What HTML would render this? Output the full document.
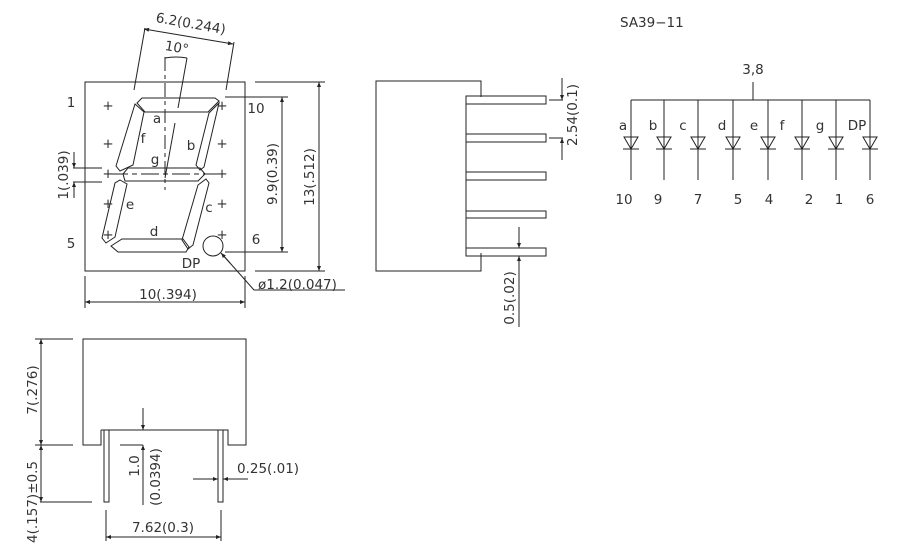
<!DOCTYPE html>
<html><head><meta charset="utf-8"><style>
html,body{margin:0;padding:0;background:#fff;}
svg{display:block;}
text{font-family:"DejaVu Sans","Liberation Sans",sans-serif;font-size:13.5px;fill:#333;}
</style></head><body>
<svg width="900" height="558" viewBox="0 0 900 558" xmlns="http://www.w3.org/2000/svg">
<defs>
<marker id="ar" viewBox="0 0 10 10" refX="10" refY="5" markerWidth="8" markerHeight="5" orient="auto-start-reverse" markerUnits="userSpaceOnUse"><path d="M0,1 L10,5 L0,9 z" fill="#222"/></marker>
</defs>
<g stroke="#222" stroke-width="1" fill="none">
<rect x="85" y="82" width="160" height="189"/>
<polygon points="142,98 215,98 219,101 208,112 145,112 137,103"/>
<polygon points="135,104 144,112 133,165 120,171 116,166"/>
<polygon points="219,103 204,167 200,170 196,165 209,113"/>
<polygon points="123,174 128,168 200,168 205,174 198,181 125,181"/>
<polygon points="120,180 127,184 115,237 106,243 102,238 115,183"/>
<polygon points="206,179 209,183 193,245 188,249 182,240 198,185"/>
<polygon points="122,239 183,239 189,247 186,252 118,252 111,246"/>
<circle cx="213" cy="246" r="10"/>
<line x1="165" y1="57" x2="165" y2="190" stroke-dasharray="14,4,4,4"/>
<line x1="187" y1="58" x2="178" y2="108"/>
<line x1="175" y1="123" x2="165" y2="178"/>
<line x1="110" y1="174" x2="225" y2="174" stroke-dasharray="18,4,5,4"/>
<path d="M165,58 Q176,56 187,58"/>
<line x1="134" y1="90" x2="145" y2="28"/>
<line x1="226" y1="90" x2="234" y2="42"/>
<line x1="144" y1="29" x2="233" y2="44" marker-start="url(#ar)" marker-end="url(#ar)"/>
<line x1="225" y1="97" x2="288" y2="97"/>
<line x1="225" y1="252" x2="288" y2="252"/>
<line x1="282" y1="97" x2="282" y2="252" marker-start="url(#ar)" marker-end="url(#ar)"/>
<line x1="255" y1="82" x2="325" y2="82"/>
<line x1="255" y1="271" x2="325" y2="271"/>
<line x1="319" y1="82" x2="319" y2="271" marker-start="url(#ar)" marker-end="url(#ar)"/>
<line x1="85" y1="276" x2="85" y2="308"/>
<line x1="245" y1="276" x2="245" y2="308"/>
<line x1="85" y1="302" x2="245" y2="302" marker-start="url(#ar)" marker-end="url(#ar)"/>
<polyline points="345,290 254,290 222,254" />
<line x1="230" y1="263" x2="221" y2="253" marker-end="url(#ar)"/>
<line x1="73" y1="168" x2="102" y2="168"/>
<line x1="73" y1="182" x2="102" y2="182"/>
<line x1="74" y1="152" x2="74" y2="168" marker-end="url(#ar)"/>
<line x1="74" y1="198" x2="74" y2="182" marker-end="url(#ar)"/>
<polyline points="481,97 481,81 376,81 376,271 481,271 481,253"/>
<line x1="466" y1="97" x2="466" y2="256"/>
<rect x="466" y="96" width="80" height="8"/>
<rect x="466" y="134" width="80" height="8"/>
<rect x="466" y="172" width="80" height="8"/>
<rect x="466" y="211" width="80" height="7"/>
<rect x="466" y="248" width="80" height="8"/>
<line x1="549" y1="100" x2="563" y2="100"/>
<line x1="549" y1="138" x2="563" y2="138"/>
<line x1="562" y1="78" x2="562" y2="100" marker-end="url(#ar)"/>
<line x1="562" y1="160" x2="562" y2="138" marker-end="url(#ar)"/>
<line x1="519" y1="227" x2="519" y2="248" marker-end="url(#ar)"/>
<line x1="519" y1="327" x2="519" y2="256" marker-end="url(#ar)"/>
<line x1="753" y1="82" x2="753" y2="100"/>
<line x1="631" y1="100" x2="870" y2="100"/>
<polyline points="101,430 101,445 83,445 83,339 246,339 246,445 228,445 228,430 101,430"/>
<rect x="104" y="430" width="5" height="72"/>
<rect x="218" y="430" width="5" height="72"/>
<line x1="35" y1="339" x2="73" y2="339"/>
<line x1="35" y1="445" x2="73" y2="445"/>
<line x1="40" y1="502" x2="92" y2="502"/>
<line x1="41" y1="339" x2="41" y2="445" marker-start="url(#ar)" marker-end="url(#ar)"/>
<line x1="41" y1="445" x2="41" y2="502" marker-start="url(#ar)" marker-end="url(#ar)"/>
<line x1="143" y1="408" x2="143" y2="430" marker-end="url(#ar)"/>
<line x1="120" y1="445" x2="143" y2="445"/>
<line x1="143" y1="505" x2="143" y2="445" marker-end="url(#ar)"/>
<line x1="193" y1="479" x2="218" y2="479" marker-end="url(#ar)"/>
<line x1="248" y1="479" x2="223" y2="479" marker-end="url(#ar)"/>
<line x1="106" y1="510" x2="106" y2="541"/>
<line x1="221" y1="510" x2="221" y2="541"/>
<line x1="106" y1="537" x2="221" y2="537" marker-start="url(#ar)" marker-end="url(#ar)"/>
</g>
<g stroke="#222" stroke-width="1" fill="none">
<g transform="translate(631,0)"><line x1="0" y1="100" x2="0" y2="180"/><polygon points="-7,137 7,137 0,149"/><line x1="-8" y1="149" x2="8" y2="149"/></g>
<g transform="translate(664,0)"><line x1="0" y1="100" x2="0" y2="180"/><polygon points="-7,137 7,137 0,149"/><line x1="-8" y1="149" x2="8" y2="149"/></g>
<g transform="translate(698,0)"><line x1="0" y1="100" x2="0" y2="180"/><polygon points="-7,137 7,137 0,149"/><line x1="-8" y1="149" x2="8" y2="149"/></g>
<g transform="translate(733,0)"><line x1="0" y1="100" x2="0" y2="180"/><polygon points="-7,137 7,137 0,149"/><line x1="-8" y1="149" x2="8" y2="149"/></g>
<g transform="translate(768,0)"><line x1="0" y1="100" x2="0" y2="180"/><polygon points="-7,137 7,137 0,149"/><line x1="-8" y1="149" x2="8" y2="149"/></g>
<g transform="translate(802,0)"><line x1="0" y1="100" x2="0" y2="180"/><polygon points="-7,137 7,137 0,149"/><line x1="-8" y1="149" x2="8" y2="149"/></g>
<g transform="translate(836,0)"><line x1="0" y1="100" x2="0" y2="180"/><polygon points="-7,137 7,137 0,149"/><line x1="-8" y1="149" x2="8" y2="149"/></g>
<g transform="translate(870,0)"><line x1="0" y1="100" x2="0" y2="180"/><polygon points="-7,137 7,137 0,149"/><line x1="-8" y1="149" x2="8" y2="149"/></g>
</g>
<g font-size="13" text-anchor="middle">
<text x="108" y="110">+</text><text x="108" y="148">+</text><text x="108" y="178">+</text><text x="108" y="208">+</text><text x="108" y="239">+</text>
<text x="222" y="110">+</text><text x="222" y="148">+</text><text x="222" y="178">+</text><text x="222" y="208">+</text><text x="222" y="239">+</text>
</g>
<g text-anchor="middle">
<text x="71" y="107">1</text>
<text x="71" y="248">5</text>
<text x="256" y="113">10</text>
<text x="256" y="244">6</text>
<text x="157" y="123">a</text>
<text x="143" y="143">f</text>
<text x="191" y="150">b</text>
<text x="155" y="164">g</text>
<text x="130" y="209">e</text>
<text x="209" y="212">c</text>
<text x="154" y="236">d</text>
<text x="191" y="268">DP</text>
<text x="168" y="299">10(.394)</text>
<text x="176" y="52" transform="rotate(10 176 52)">10°</text>
<text x="190" y="28" transform="rotate(10 190 28)">6.2(0.244)</text>
<text transform="translate(277,174) rotate(-90)">9.9(0.39)</text>
<text transform="translate(314,177) rotate(-90)">13(.512)</text>
<text transform="translate(68,175) rotate(-90)">1(.039)</text>
<text transform="translate(577,115) rotate(-90)">2.54(0.1)</text>
<text transform="translate(514,298) rotate(-90)">0.5(.02)</text>
<text x="623" y="130">a</text><text x="653" y="130">b</text><text x="683" y="130">c</text><text x="722" y="130">d</text>
<text x="754" y="130">e</text><text x="782" y="130">f</text><text x="820" y="130">g</text><text x="857" y="130">DP</text>
<text x="624" y="204">10</text><text x="658" y="204">9</text><text x="698" y="204">7</text><text x="738" y="204">5</text>
<text x="769" y="204">4</text><text x="809" y="204">2</text><text x="839" y="204">1</text><text x="870" y="204">6</text>
<text x="753" y="74">3,8</text>
<text transform="translate(37,390) rotate(-90)">7(.276)</text>
<text transform="translate(37,502) rotate(-90)">4(.157)±0.5</text>
<text transform="translate(139,466) rotate(-90)">1.0</text>
<text transform="translate(160,477) rotate(-90)">(0.0394)</text>
<text x="163" y="532">7.62(0.3)</text>
</g>
<text x="620" y="27">SA39−11</text>
<text x="258" y="289">ø1.2(0.047)</text>
<text x="237" y="473">0.25(.01)</text>
</svg>
</body></html>
